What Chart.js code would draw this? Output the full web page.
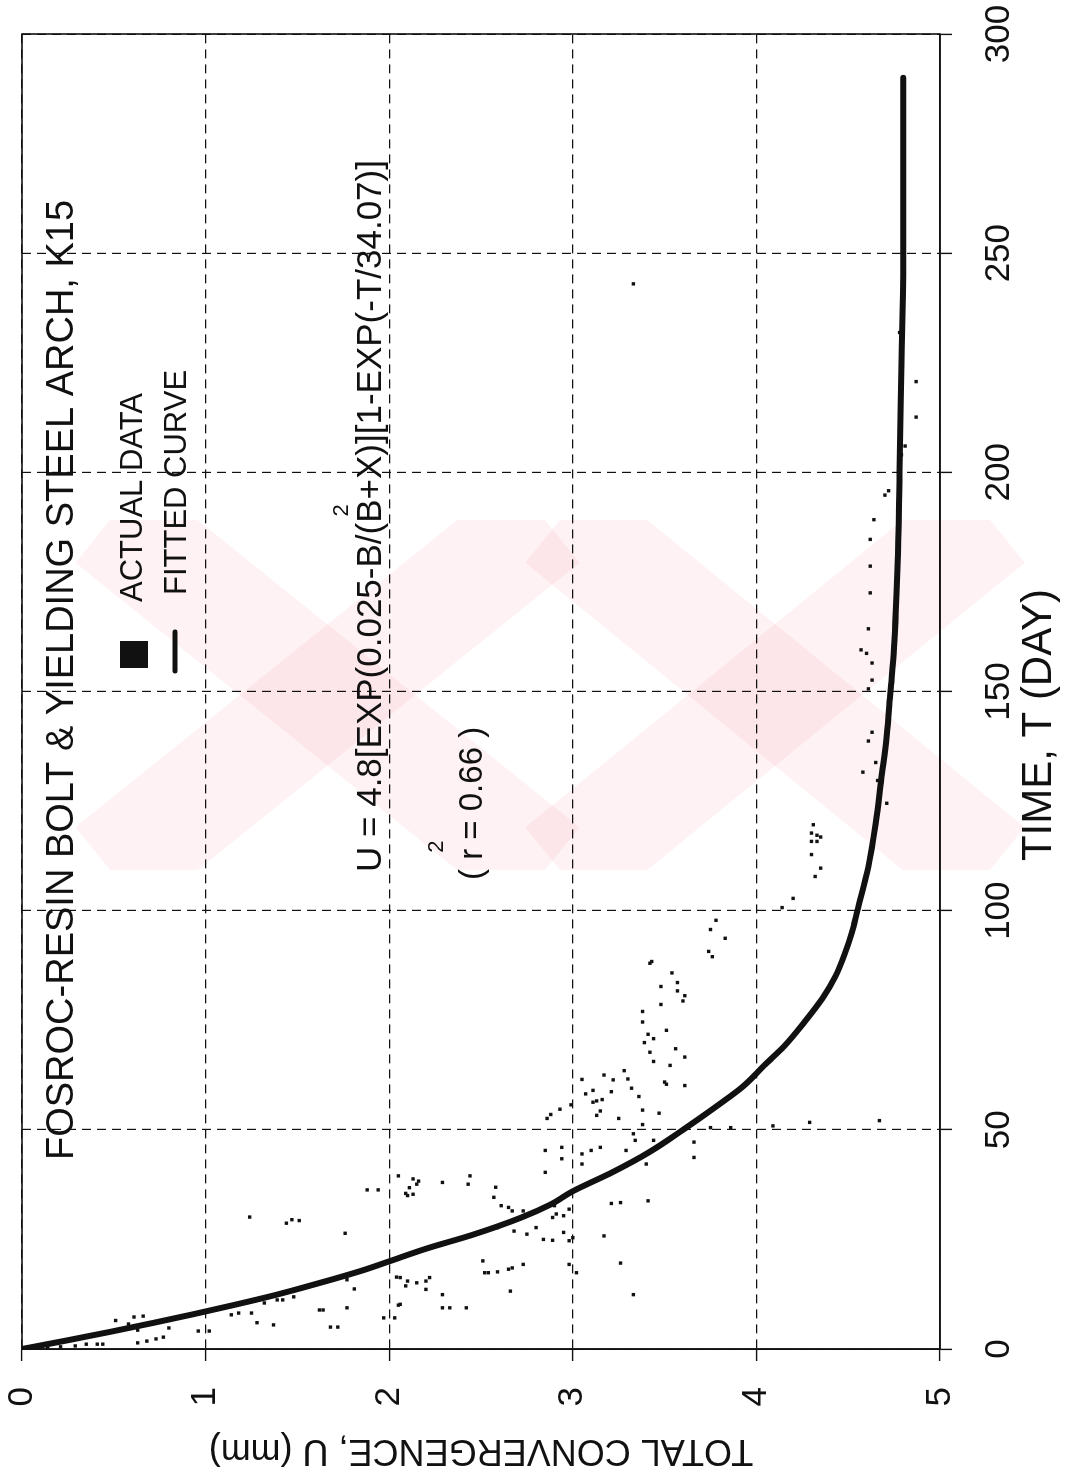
<!DOCTYPE html>
<html>
<head>
<meta charset="utf-8">
<title>Fosroc-resin bolt &amp; yielding steel arch, K15</title>
<script src="https://cdn.jsdelivr.net/npm/chart.js@4.4.1/dist/chart.umd.min.js"></script>
<style>
  html, body { margin: 0; padding: 0; background: #ffffff; width: 1067px; height: 1472px; overflow: hidden; }
  /* the plot is laid out landscape and turned a quarter turn onto the portrait page */
  #frame {
    position: absolute; left: 0; top: 0;
    width: 1472px; height: 1067px;
    transform-origin: 0 0;
    transform: translate(0px, 1472px) rotate(-90deg);
  }
</style>
</head>
<body>
<div id="frame"><canvas id="chart" width="1472" height="1067"></canvas></div>
<script>
// Axis ticks
const timeTicks = [0, 50, 100, 150, 200, 250, 300];
const convergenceTicks = [0, 1, 2, 3, 4, 5];

// Measured convergence readings: time (days) and total convergence (mm)
const actualDays = [
  0.3, 0.5, 0.7, 1.1, 1.1, 1.1, 6.5, 5.7, 7.3, 7.5, 4.3, 1.4,
  1.8, 2.3, 2.7, 4.8, 4.1, 4.1, 7.8, 8.2, 8.2, 6.0, 5.5, 10.5,
  11.2, 11.2, 11.9, 30.1, 28.7, 29.5, 29.3, 26.4, 8.9, 8.9, 5.0, 5.0,
  9.4, 15.8, 13.7, 36.3, 36.3, 39.5, 16.4, 10.0, 7.1, 7.1,
  35.5, 36.8, 38.8, 38.3, 35.3, 35.0, 37.6, 38.0, 37.6, 39.5,
  34.6, 36.9, 32.7, 32.3, 31.5, 31.5, 27.7, 26.9, 26.2, 27.7,
  25.0, 24.8, 26.6, 24.7, 25.4, 30.0, 30.8, 30.4, 31.9, 32.7,
  20.1, 17.4, 17.4, 17.6, 18.2, 18.5, 19.3, 13.2, 16.3, 15.5,
  15.1, 15.5, 16.3, 14.4, 13.6, 12.4, 9.4, 9.4, 9.4, 10.2,
  47.2, 43.7, 42.2, 41.3, 47.6, 47.6, 49.1, 33.8, 33.4, 33.2, 25.8, 19.6,
  12.4, 19.3, 17.4, 40.3, 45.3, 46.0, 43.4, 44.5, 42.2, 45.3, 46.0, 45.3,
  50.5, 50.5, 50.9, 51.7, 52.1,
  54.7, 55.7, 52.6, 53.5,
  63.5, 62.5, 61.4, 61.6, 61.5, 58.2, 59.0, 56.3, 56.6, 56.9,
  58.7, 59.5, 57.6, 54.5, 51.2, 53.8, 52.6, 53.3, 54.3,
  68.5, 66.6, 64.7, 60.9, 60.4, 60.1,
  72.7, 71.8, 70.8, 69.9, 67.7, 65.6,
  82.7, 78.6, 77.0, 74.6,
  85.8, 83.6, 81.7, 80.6, 79.4,
  88.4, 88.0,
  97.8, 95.7, 93.7, 90.7, 89.5,
  102.8, 100.7,
  119.6, 117.7, 117.2, 116.8, 115.8, 115.8, 112.8, 109.7, 107.8,
  156.5, 152.6, 150.6, 140.7, 138.7, 133.8, 131.6, 129.7, 124.5,
  158.7, 159.5, 164.3, 172.5, 178.6, 184.7, 189.2, 194.8, 195.8,
  204.0, 206.0, 212.6, 220.7, 231.9, 243.0
];
const actualConvergence = [
  0.14, 0.21, 0.29, 0.35, 0.41, 0.44, 0.51, 0.58, 0.61, 0.66, 0.63, 0.63,
  0.68, 0.73, 0.77, 0.80, 0.96, 1.02, 1.14, 1.18, 1.25, 1.28, 1.37, 1.32,
  1.39, 1.42, 1.48, 1.24, 1.44, 1.47, 1.51, 1.76, 1.62, 1.64, 1.68, 1.72,
  1.77, 1.77, 1.81, 1.88, 1.94, 2.05, 2.04, 2.05, 1.97, 2.03,
  2.09, 2.11, 2.13, 2.16, 2.13, 2.10, 2.15, 2.29, 2.43, 2.44,
  2.57, 2.58, 2.61, 2.65, 2.67, 2.73, 2.59, 2.68, 2.75, 2.80,
  2.84, 2.89, 2.95, 2.98, 3.00, 2.89, 2.91, 2.95, 2.98, 2.90,
  2.51, 2.52, 2.54, 2.59, 2.65, 2.67, 2.73, 2.66, 2.06, 2.10,
  2.15, 2.20, 2.22, 2.09, 2.20, 2.29, 2.29, 2.33, 2.42, 2.06,
  3.66, 3.66, 3.40, 3.26, 3.44, 3.34, 3.33, 3.41, 3.26, 3.21, 3.17, 3.26,
  3.33, 2.98, 3.02, 2.85, 2.85, 2.94, 2.94, 3.05, 3.05, 3.10, 3.15, 3.29,
  3.75, 3.86, 4.09, 4.29, 4.67,
  2.93, 2.99, 2.86, 2.88,
  3.28, 3.17, 3.22, 3.30, 3.05, 3.07, 3.11, 3.11, 3.13, 3.16,
  3.21, 3.32, 3.36, 3.38, 3.38, 3.47, 3.25, 3.13, 3.15,
  3.56, 3.61, 3.53, 3.50, 3.51, 3.61,
  3.51, 3.41, 3.44, 3.39, 3.42, 3.44,
  3.48, 3.48, 3.38, 3.38,
  3.54, 3.57, 3.57, 3.61, 3.60,
  3.43, 3.42,
  3.78, 3.75, 3.83, 3.74, 3.76,
  4.20, 4.14,
  4.31, 4.30, 4.33, 4.35, 4.30, 4.33, 4.30, 4.35, 4.32,
  4.63, 4.63, 4.61, 4.63, 4.61, 4.65, 4.58, 4.66, 4.71,
  4.60, 4.57, 4.61, 4.62, 4.62, 4.62, 4.64, 4.70, 4.72,
  4.79, 4.81, 4.87, 4.87, 4.78, 3.33
];

// Fitted convergence curve
const fittedDays = [
  0, 2, 4, 6, 8, 10, 12, 14, 16, 18, 20, 23, 26, 30, 33, 36, 40, 45, 50, 55,
  60, 65, 69, 75, 80, 85, 90, 95, 100, 110, 120, 130, 140, 150, 160, 180,
  200, 225, 250, 270, 290
];
const fittedConvergence = [
  0, 0.25, 0.49, 0.72, 0.94, 1.15, 1.35, 1.53, 1.70, 1.86, 2.00, 2.21, 2.45, 2.72, 2.88, 3.00, 3.20, 3.42, 3.60, 3.77,
  3.93, 4.05, 4.15, 4.27, 4.36, 4.43, 4.48, 4.52, 4.55, 4.61, 4.65, 4.68, 4.71, 4.73, 4.75, 4.77,
  4.78, 4.79, 4.80, 4.80, 4.80
];

const FONT = '"Liberation Sans", Arial, Helvetica, sans-serif';
const INK = '#111111';
const STAMP = 'rgba(236, 60, 90, 0.065)';

const toPoints = (xs, ys) => xs.map((x, i) => ({ x: x, y: ys[i] }));

// Pale background stamp behind the plot (two pairs of broad crossed bands)
const stamp = {
  id: 'stamp',
  beforeDraw(chart) {
    const ctx = chart.ctx;
    const band = (x1, y1, x2, y2, w) => {
      ctx.lineWidth = w;
      ctx.beginPath();
      ctx.moveTo(x1, y1);
      ctx.lineTo(x2, y2);
      ctx.stroke();
    };
    ctx.save();
    ctx.beginPath();
    ctx.rect(602, 0, 350, 1067);
    ctx.clip();
    ctx.strokeStyle = STAMP;
    ctx.lineCap = 'butt';
    band(602, 110, 952, 545, 110);
    band(952, 110, 602, 545, 110);
    band(602, 560, 952, 990, 110);
    band(952, 560, 602, 990, 110);
    ctx.restore();
  }
};

// Solid frame round the plotting area
const plotFrame = {
  id: 'plotFrame',
  afterDatasetsDraw(chart) {
    const a = chart.chartArea, ctx = chart.ctx;
    ctx.save();
    ctx.strokeStyle = INK;
    ctx.lineWidth = 1.6;
    ctx.strokeRect(a.left, a.top, a.right - a.left, a.bottom - a.top);
    ctx.restore();
  }
};

// Title, legend key, regression equation, goodness of fit and time-axis caption
const notes = {
  id: 'notes',
  afterDraw(chart) {
    const ctx = chart.ctx;
    const sets = chart.data.datasets;
    ctx.save();
    ctx.fillStyle = INK;
    ctx.textAlign = 'left';
    ctx.textBaseline = 'alphabetic';

    ctx.font = '38px ' + FONT;
    ctx.fillText('FOSROC-RESIN BOLT & YIELDING STEEL ARCH, K15', 312, 73);

    // legend key
    ctx.fillStyle = sets[0].backgroundColor;
    ctx.fillRect(804, 120, 27, 28);
    ctx.strokeStyle = sets[1].borderColor;
    ctx.lineWidth = 5;
    ctx.lineCap = 'round';
    ctx.beginPath();
    ctx.moveTo(801, 175);
    ctx.lineTo(840, 175);
    ctx.stroke();
    ctx.fillStyle = INK;
    ctx.font = '31px ' + FONT;
    ctx.fillText(sets[0].label, 870, 142);
    ctx.fillText(sets[1].label, 877, 186);

    // equation of the fitted curve
    const eqLeft = 600;
    const eqHead = 'U = 4.8[EXP(0.025-B/(B';
    ctx.font = '35px ' + FONT;
    ctx.fillText(eqHead + '+X)][1-EXP(-T/34.07)]', eqLeft, 381);
    const supAt = eqLeft + ctx.measureText(eqHead).width;
    ctx.font = '22px ' + FONT;
    ctx.fillText('2', supAt - 17, 348);

    // coefficient of determination
    const rLeft = 592;
    ctx.font = '33px ' + FONT;
    ctx.fillText('( r = 0.66 )', rLeft, 482);
    const rAt = rLeft + ctx.measureText('( r').width;
    ctx.font = '22px ' + FONT;
    ctx.fillText('2', rAt - 4, 443);

    // caption of the time axis
    ctx.font = '42px ' + FONT;
    ctx.textAlign = 'center';
    ctx.fillText('TIME, T (DAY)', 747, 1051);
    ctx.restore();
  }
};

const dropOverhang = (scale) => {
  scale.paddingLeft = 0;
  scale.paddingRight = 0;
  scale.paddingTop = 0;
  scale.paddingBottom = 0;
};

new Chart(document.getElementById('chart'), {
  type: 'scatter',
  data: {
    datasets: [
      {
        label: 'ACTUAL DATA',
        data: toPoints(actualDays, actualConvergence),
        pointStyle: 'rect',
        pointRadius: 2.4,
        pointBorderWidth: 0,
        backgroundColor: INK,
        borderColor: INK,
        order: 2
      },
      {
        type: 'line',
        label: 'FITTED CURVE',
        data: toPoints(fittedDays, fittedConvergence),
        borderColor: INK,
        backgroundColor: INK,
        borderWidth: 6,
        pointRadius: 0,
        fill: false,
        cubicInterpolationMode: 'monotone',
        borderCapStyle: 'round',
        borderJoinStyle: 'round',
        order: 1
      }
    ]
  },
  options: {
    responsive: false,
    animation: false,
    devicePixelRatio: 1,
    layout: { padding: { left: 0, right: 34, top: 22, bottom: 0 } },
    plugins: {
      legend: { display: false },
      tooltip: { enabled: false }
    },
    scales: {
      x: {
        type: 'linear',
        position: 'bottom',
        min: 0,
        max: 300,
        afterBuildTicks: (scale) => { scale.ticks = timeTicks.map(v => ({ value: v })); },
        afterFit: (scale) => { scale.height = 127; dropOverhang(scale); },
        grid: { color: INK, lineWidth: 1.2, tickLength: 12, tickColor: INK, tickWidth: 1.4, tickBorderDash: [] },
        border: { display: true, color: INK, width: 1.6, dash: [9, 6] },
        ticks: { color: INK, font: { family: FONT, size: 35 }, padding: 26, maxRotation: 0, autoSkip: false },
        title: { display: false }
      },
      y: {
        type: 'linear',
        position: 'left',
        reverse: true,
        min: 0,
        max: 5,
        afterBuildTicks: (scale) => { scale.ticks = convergenceTicks.map(v => ({ value: v })); },
        afterFit: (scale) => { scale.width = 123; dropOverhang(scale); },
        grid: { color: INK, lineWidth: 1.2, tickLength: 12, tickColor: INK, tickWidth: 1.4, tickBorderDash: [] },
        border: { display: true, color: INK, width: 1.6, dash: [9, 6] },
        ticks: { color: INK, font: { family: FONT, size: 35 }, padding: 26, autoSkip: false },
        title: {
          display: true, text: 'TOTAL CONVERGENCE, U (mm)', color: INK,
          font: { family: FONT, size: 36 }, padding: { top: 0, bottom: 0 }
        }
      }
    }
  },
  plugins: [stamp, plotFrame, notes]
});
</script>
</body>
</html>
